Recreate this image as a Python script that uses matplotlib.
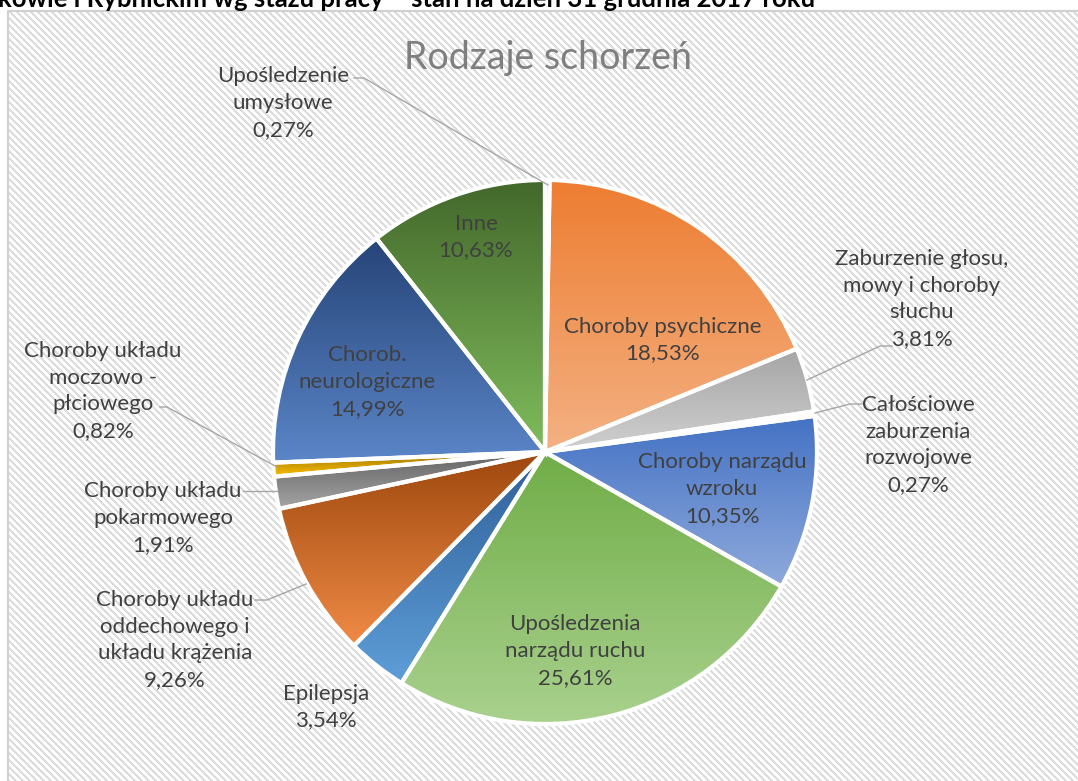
import numpy as np
import matplotlib
matplotlib.use('Agg')
import matplotlib.pyplot as plt
from matplotlib.colors import to_rgb

plt.rcParams['font.family'] = ['Lato', 'DejaVu Sans']

W, H = 1078, 781

# slices, clockwise from 12 o'clock
categories = ['Upośledzenie\numysłowe', 'Choroby psychiczne',
              'Zaburzenie głosu,\nmowy i choroby\nsłuchu',
              'Całościowe\nzaburzenia\nrozwojowe', 'Choroby narządu\nwzroku',
              'Upośledzenia\nnarządu ruchu', 'Epilepsja',
              'Choroby układu\noddechowego i\nukładu krążenia',
              'Choroby układu\npokarmowego', 'Choroby układu\nmoczowo -\npłciowego',
              'Chorob.\nneurologiczne', 'Inne']
values = [0.27, 18.53, 3.81, 0.27, 10.35, 25.61, 3.54, 9.26, 1.91, 0.82, 14.99, 10.63]

top_colours = ['#4472C4', '#ED7D31', '#A5A5A5', '#FFC000', '#4472C4', '#70AD47',
               '#2F5F98', '#9E480E', '#636363', '#997300', '#264478', '#43682B']
bottom_colours = ['#8FAADC', '#F4B183', '#D0D0D0', '#FFD966', '#8FAADC', '#A9D18E',
                  '#5E9ED8', '#F08B46', '#A5A5A5', '#FFC000', '#5B86C8', '#80BC5C']

title = 'Rodzaje schorzeń'
caption = 'kowie i Rybnickim wg stażu pracy – stan na dzień 31 grudnia 2017 roku'

# label centres, pixels from top-left
label_pos = [(283, 103), (663, 340), (922, 299), (918, 445), (722, 489), (575, 651),
             (326, 707), (175, 640), (163, 518), (103, 391), (367, 382), (476, 237)]
leaders = {
    0: [(354, 78), (364, 78), (548, 185)],
    2: [(892, 346), (880, 346), (807, 380)],
    3: [(862, 404), (850, 404), (815, 413)],
    7: [(255, 600), (267, 600), (306, 584)],
    8: [(243, 491), (277, 491)],
    9: [(160, 407), (167, 407), (277, 467)],
}

fig = plt.figure(figsize=(W / 100, H / 100), dpi=100)
ax = fig.add_axes([0, 0, 1, 1])

# hatched chart area
yy, xx = np.mgrid[0:H - 12, 0:W - 9]
stripes = ((xx - yy) % 7) < 3
bg = np.where(stripes[..., None], np.array(to_rgb('#DCDCDC')), np.ones(3))
ax.imshow(bg, extent=(9, W, 0, H - 12), origin='upper', interpolation='nearest',
          aspect='auto', zorder=0)
ax.plot([8, 8, W], [0, H - 11, H - 11], color='#D0D0D0', lw=1.5, zorder=1)

ax.text(-2, H - 7, caption, fontsize=18.5, fontweight='bold', color='black',
        ha='left', va='baseline')

wedges, _ = ax.pie(values, startangle=90, counterclock=False,
                   center=(545, H - 452), radius=272,
                   wedgeprops=dict(edgecolor='white', linewidth=3, facecolor='none'))

grad = np.linspace(0, 1, 256)[:, None]
for i, w in enumerate(wedges):
    w.set_zorder(3)
    bb = w.get_path().get_extents()
    c1 = np.array(to_rgb(top_colours[i]))
    c2 = np.array(to_rgb(bottom_colours[i]))
    img = ((1 - grad) * c1 + grad * c2).reshape(256, 1, 3)
    im = ax.imshow(img, extent=(bb.x0, bb.x1, bb.y0, bb.y1), origin='upper',
                   interpolation='bilinear', aspect='auto', zorder=2)
    im.set_clip_path(w)

for i, (x, y) in enumerate(label_pos):
    pct = f"{values[i]:.2f}".replace('.', ',') + '%'
    ax.text(x, H - y, categories[i] + '\n' + pct, ha='center', va='center',
            fontsize=16, color='#404040', linespacing=1.42, zorder=5)

for pts in leaders.values():
    ax.plot([p[0] for p in pts], [H - p[1] for p in pts], color='#A6A6A6', lw=1, zorder=4)

ax.text(548, H - 58, title, ha='center', va='center', fontsize=27, color='#7F7F7F')

ax.set_xlim(0, W)
ax.set_ylim(0, H)
ax.axis('off')
fig.savefig('out.png', dpi=100)
